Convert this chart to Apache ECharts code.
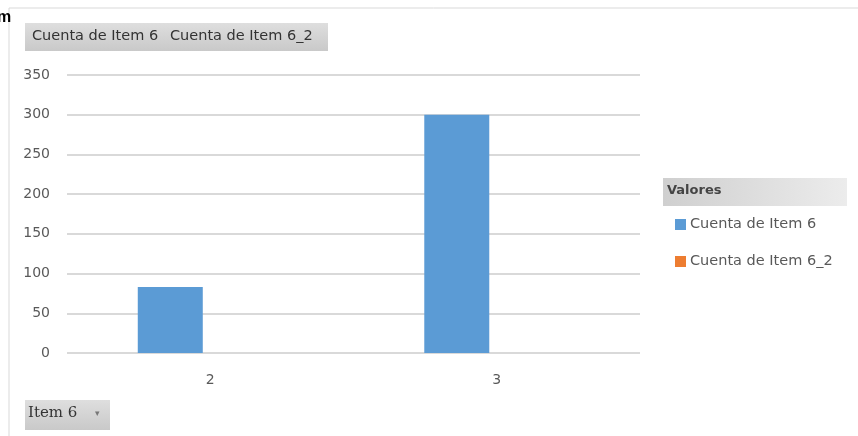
<!DOCTYPE html>
<html>
<head>
<meta charset="utf-8">
<script src="https://cdn.jsdelivr.net/npm/echarts@6/dist/echarts.min.js"></script>
<style>html,body{margin:0;padding:0;background:#fff}#c{width:858px;height:436px}</style>
</head>
<body>
<div id="c"></div>
<script>
const categories = ['2', '3'];
const seriesNames = ['Cuenta de Item 6', 'Cuenta de Item 6_2'];
const valuesItem6 = [83, 300];
const valuesItem6_2 = [0, 0];
const yTicks = { min: 0, max: 350, interval: 50 };

const font = '"DejaVu Sans", "Liberation Sans", sans-serif';
const chart = echarts.init(document.getElementById('c'));
const btnFill = new echarts.graphic.LinearGradient(0, 0, 0, 1, [
  { offset: 0, color: '#dedede' }, { offset: 1, color: '#c9c9c9' }
]);
chart.setOption({
  animation: false,
  grid: { left: 67, right: 218, top: 75, bottom: 83 },
  xAxis: {
    type: 'category', data: categories,
    axisLine: { show: false }, axisTick: { show: false },
    axisLabel: { color: '#595959', fontSize: 14, fontFamily: font, margin: 20 }
  },
  yAxis: {
    type: 'value', min: yTicks.min, max: yTicks.max, interval: yTicks.interval,
    axisLine: { show: false }, axisTick: { show: false },
    axisLabel: { color: '#595959', fontSize: 14, fontFamily: font, margin: 17 },
    splitLine: { lineStyle: { color: '#d9d9d9', width: 2 } }
  },
  legend: {
    orient: 'vertical', left: 670, top: 212, itemGap: 22,
    icon: 'rect', itemWidth: 11, itemHeight: 11, itemStyle: { borderWidth: 0 },
    textStyle: { color: '#595959', fontSize: 14.5, fontFamily: font, padding: [0, 0, 0, -1] },
    data: seriesNames
  },
  series: [
    { name: seriesNames[0], type: 'bar', data: valuesItem6, barWidth: 65, barGap: '23%',
      itemStyle: { color: '#5b9bd5' } },
    { name: seriesNames[1], type: 'bar', data: valuesItem6_2, barWidth: 65,
      itemStyle: { color: '#ed7d31' } }
  ],
  graphic: [
    { type: 'line', shape: { x1: 9, y1: 8, x2: 858, y2: 8 }, style: { stroke: '#d9d9d9', lineWidth: 1 } },
    { type: 'line', shape: { x1: 9, y1: 8, x2: 9, y2: 436 }, style: { stroke: '#d9d9d9', lineWidth: 1 } },
    { type: 'text', left: -3, top: 10, style: { text: 'm', fontSize: 16, fontWeight: 'bold', fill: '#000', fontFamily: '"Liberation Sans", sans-serif' } },
    { type: 'rect', shape: { x: 25, y: 23, width: 303, height: 28 }, style: { fill: btnFill } },
    { type: 'text', left: 32, top: 29, style: { text: 'Cuenta de Item 6', fontSize: 14.5, fill: '#333', fontFamily: font } },
    { type: 'text', left: 170, top: 29, style: { text: 'Cuenta de Item 6_2', fontSize: 14.5, fill: '#333', fontFamily: font } },
    { type: 'rect', shape: { x: 663, y: 178, width: 184, height: 28 },
      style: { fill: new echarts.graphic.LinearGradient(0, 0, 1, 0, [{ offset: 0, color: '#cfcfcf' }, { offset: 1, color: '#ececec' }]) } },
    { type: 'text', left: 667, top: 184, style: { text: 'Valores', fontSize: 13, fontWeight: 'bold', fill: '#444', fontFamily: font } },
    { type: 'rect', shape: { x: 25, y: 400, width: 85, height: 30 }, style: { fill: btnFill } },
    { type: 'text', left: 28, top: 406, style: { text: 'Item 6', fontSize: 15, fill: '#333', fontFamily: '"DejaVu Serif", serif' } },
    { type: 'text', left: 95, top: 409, style: { text: '▾', fontSize: 9, fill: '#777', fontFamily: font } }
  ]
});
</script>
</body>
</html>
